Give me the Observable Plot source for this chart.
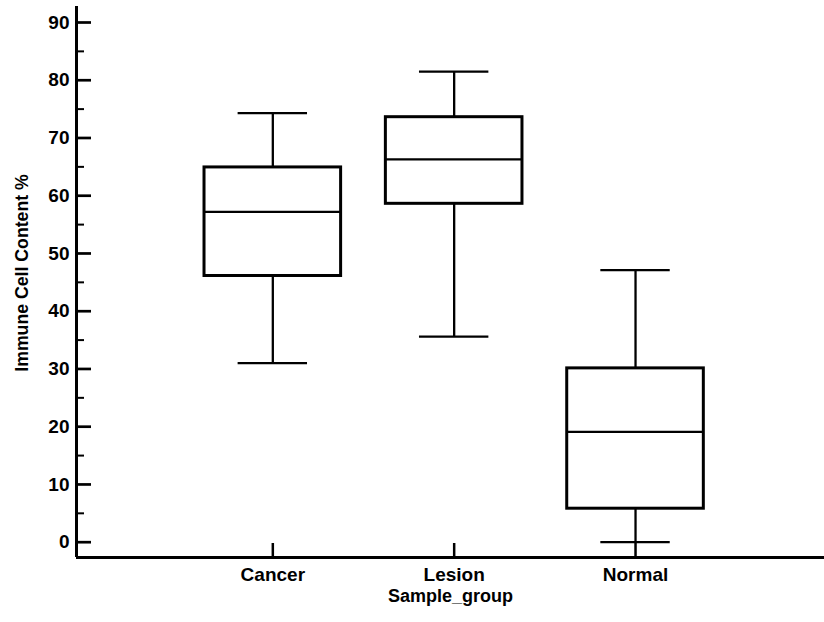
<!DOCTYPE html>
<html>
<head>
<meta charset="utf-8">
<script src="https://cdn.jsdelivr.net/npm/d3@7"></script>
<script src="https://cdn.jsdelivr.net/npm/@observablehq/plot@0.6"></script>
<style>
  html, body { margin: 0; padding: 0; background: #fff; }
  #chart svg { display: block; }
</style>
</head>
<body>
<div id="chart"></div>
<script>
// ---- data ----
const groups = ["Cancer", "Lesion", "Normal"];
const whiskerLow  = [31.0, 35.6, 0.0];
const q1          = [46.1, 58.6, 5.8];
const median      = [57.2, 66.3, 19.1];
const q3          = [64.9, 73.6, 30.1];
const whiskerHigh = [74.3, 81.5, 47.1];
const yMajorTicks = [0, 10, 20, 30, 40, 50, 60, 70, 80, 90];
const yMinorTicks = [5, 15, 25, 35, 45, 55, 65, 75, 85];
const xTitle = "Sample_group";
const yTitle = "Immune Cell Content %";

// ---- layout ----
const W = 824, H = 622;
const mL = 76, mR = 0, mT = 6, mB = 65;
const xDomain = [-1.0825, 3.042];
const yDomain = [-2.65, 92.77];
const pxPerX = (W - mL - mR) / (xDomain[1] - xDomain[0]);
const pxPerY = (H - mT - mB) / (yDomain[1] - yDomain[0]);
const boxHalf = 68.3 / pxPerX;
const capHalf = 34.7 / pxPerX;
const majorLen = 15 / pxPerX;
const minorLen = 8 / pxPerX;
const xTickLen = 14 / pxPerY;

const rows = groups.map((g, i) => ({
  i, group: g,
  lo: whiskerLow[i], q1: q1[i], med: median[i], q3: q3[i], hi: whiskerHigh[i]
}));

const font = "'Liberation Sans', Arial, Helvetica, sans-serif";

const chart = Plot.plot({
  width: W, height: H,
  marginLeft: mL, marginRight: mR, marginTop: mT, marginBottom: mB,
  style: { fontFamily: font, fontSize: "18px", fontWeight: "bold", color: "#000", background: "#fff" },
  x: { type: "linear", domain: xDomain, axis: null },
  y: { type: "linear", domain: yDomain, axis: null },
  marks: [
    // whiskers
    Plot.ruleX(rows, { x: "i", y1: "q3", y2: "hi", stroke: "#000", strokeWidth: 2.3 }),
    Plot.ruleX(rows, { x: "i", y1: "lo", y2: "q1", stroke: "#000", strokeWidth: 2.3 }),
    // caps
    Plot.ruleY(rows, { y: "hi", x1: d => d.i - capHalf, x2: d => d.i + capHalf, stroke: "#000", strokeWidth: 2.3 }),
    Plot.ruleY(rows, { y: "lo", x1: d => d.i - capHalf, x2: d => d.i + capHalf, stroke: "#000", strokeWidth: 2.3 }),
    // boxes
    Plot.rect(rows, { x1: d => d.i - boxHalf, x2: d => d.i + boxHalf, y1: "q1", y2: "q3",
      fill: "#fff", stroke: "#000", strokeWidth: 3, strokeLinejoin: "miter" }),
    // medians
    Plot.ruleY(rows, { y: "med", x1: d => d.i - boxHalf, x2: d => d.i + boxHalf, stroke: "#000", strokeWidth: 2.3 }),
    // axis lines
    Plot.ruleX([xDomain[0]], { stroke: "#000", strokeWidth: 3 }),
    Plot.ruleY([yDomain[0]], { stroke: "#000", strokeWidth: 3 }),
    // y ticks (inward)
    Plot.ruleY(yMajorTicks, { y: d => d, x1: xDomain[0], x2: xDomain[0] + majorLen, stroke: "#000", strokeWidth: 2.7 }),
    Plot.ruleY(yMinorTicks, { y: d => d, x1: xDomain[0], x2: xDomain[0] + minorLen, stroke: "#000", strokeWidth: 2 }),
    // x ticks (inward)
    Plot.ruleX(rows, { x: "i", y1: yDomain[0], y2: yDomain[0] + xTickLen, stroke: "#000", strokeWidth: 2.5 }),
    // tick labels
    Plot.axisY(yMajorTicks, { anchor: "left", tickSize: 0, tickPadding: 7, label: null,
      fontSize: 19, fontWeight: "bold", fill: "#000", letterSpacing: "0.6px" }),
    Plot.axisX(rows.map(d => d.i), { anchor: "bottom", tickSize: 0, tickPadding: 10, label: null,
      tickFormat: i => groups[i], fontSize: 19, fontWeight: "bold", fill: "#000", letterSpacing: "0.6px" }),
    // axis titles
    Plot.text([xTitle], { frameAnchor: "bottom", lineAnchor: "middle", textAnchor: "middle", dy: 39, text: d => d,
      fontSize: 18, fontWeight: "bold", fill: "#000", letterSpacing: "0.5px" }),
    Plot.text([yTitle], { frameAnchor: "left", lineAnchor: "middle", textAnchor: "middle", dx: 21.7 - mL, dy: -9, rotate: -90, text: d => d,
      fontSize: 17.7, fontWeight: "bold", fill: "#000" })
  ]
});

document.getElementById("chart").appendChild(chart);
</script>
</body>
</html>
